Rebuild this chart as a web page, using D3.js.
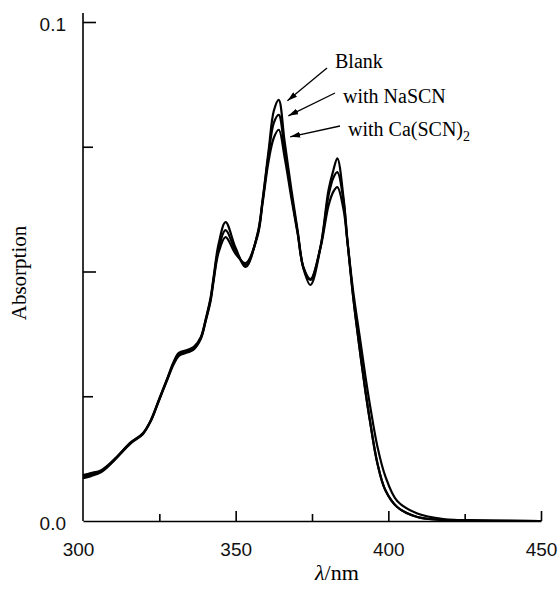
<!DOCTYPE html>
<html>
<head>
<meta charset="utf-8">
<script src="https://cdn.jsdelivr.net/npm/d3@7"></script>
<style>
  body { margin: 0; background: #fff; }
  svg { display: block; }
</style>
</head>
<body>
<div id="chart"></div>
<script>
// wavelength grid (nm)
var wavelength = [300, 302.6, 306, 310, 315.7, 319.6, 322.2, 324.8, 327.8, 329.7, 331.4, 334.3, 336.3, 338.6,
  340.2, 341.8, 342.8, 344.4, 346.7, 350, 353.3, 357.2, 358.8, 360.8, 362.5, 364.1, 366, 368.3, 370.3, 372.2,
  374.5, 377.8, 380.4, 382, 383.3, 385.3, 386.6, 388.6, 390.5, 392.5, 394.1, 396.4, 399, 402.9, 409.5, 418, 430, 450];

var blank = [0.0092, 0.0096, 0.0102, 0.0122, 0.0158, 0.0176, 0.0202, 0.0242, 0.0289, 0.0319, 0.0337, 0.0343, 0.0349, 0.0369,
  0.0405, 0.0448, 0.0490, 0.0555, 0.0599, 0.0547, 0.0509, 0.0577, 0.0643, 0.0743, 0.0822, 0.0844, 0.0762, 0.0662, 0.0582, 0.0506,
  0.0473, 0.0549, 0.0663, 0.0703, 0.0727, 0.0649, 0.0563, 0.0443, 0.0350, 0.0260, 0.0196, 0.0116, 0.0062, 0.0028, 0.0008, 0.0002, 0.0001, 0];

var nascn = [0.0089, 0.0093, 0.0100, 0.0121, 0.0157, 0.0175, 0.0201, 0.0241, 0.0288, 0.0317, 0.0334, 0.0340, 0.0346, 0.0367,
  0.0403, 0.0445, 0.0486, 0.0546, 0.0583, 0.0541, 0.0513, 0.0575, 0.0640, 0.0735, 0.0798, 0.0814, 0.0745, 0.0652, 0.0578, 0.0507,
  0.0483, 0.0550, 0.0652, 0.0688, 0.0699, 0.0642, 0.0560, 0.0443, 0.0350, 0.0260, 0.0196, 0.0116, 0.0062, 0.0028, 0.0008, 0.0002, 0.0001, 0];

var caScn = [0.0086, 0.0090, 0.0098, 0.0120, 0.0156, 0.0174, 0.0200, 0.0240, 0.0286, 0.0314, 0.0331, 0.0338, 0.0344, 0.0365,
  0.0401, 0.0441, 0.0482, 0.0538, 0.0569, 0.0535, 0.0517, 0.0572, 0.0636, 0.0722, 0.0768, 0.0784, 0.0730, 0.0645, 0.0576, 0.0509,
  0.0485, 0.0548, 0.0632, 0.0660, 0.0669, 0.0625, 0.0560, 0.0455, 0.0375, 0.0290, 0.0228, 0.0150, 0.0090, 0.0040, 0.0015, 0.0004, 0.0001, 0];

var xMajorTicks = [300, 350, 400, 450];
var xMinorTicks = [325, 375, 425];
var yMajorTicks = [0, 0.05, 0.1];
var yMinorTicks = [0.025, 0.075];

// labels with the point on each curve the arrow points to
var seriesNames = ["Blank", "with NaSCN", "with Ca(SCN)"];
var arrowNm = [366.3, 366.6, 367.2];
var arrowVal = [0.0842, 0.0812, 0.0770];

var width = 560, height = 589;

var svg = d3.select("#chart").append("svg")
    .attr("width", width)
    .attr("height", height);

var x = d3.scaleLinear().domain([300, 450]).range([83, 541]);
var y = d3.scaleLinear().domain([0, 0.1]).range([521, 22]);

var sans = "'Liberation Sans', Arial, sans-serif";
var serif = "'Liberation Serif', 'Times New Roman', serif";

// x axis
var xAxis = svg.append("g")
    .attr("transform", "translate(0," + y(0) + ")")
    .call(d3.axisBottom(x).tickValues(xMajorTicks).tickSizeInner(-10).tickSizeOuter(0).tickPadding(22)
      .tickFormat(d3.format("d")));
svg.append("g")
    .attr("transform", "translate(0," + y(0) + ")")
    .call(d3.axisBottom(x).tickValues(xMinorTicks).tickSizeInner(-7).tickSizeOuter(0).tickFormat(""))
    .select(".domain").remove();
xAxis.selectAll(".tick").filter(function(d) { return d === 300; }).select("line").remove();
xAxis.selectAll(".tick text").attr("dx", function(d) { return d === 300 ? "-5" : "0"; });

// y axis
var yAxis = svg.append("g")
    .attr("transform", "translate(" + x(300) + ",0)")
    .call(d3.axisLeft(y).tickValues(yMajorTicks).tickSizeInner(-13).tickSizeOuter(0).tickPadding(17)
      .tickFormat(function(d) { return d === 0.05 ? "" : d3.format(".1f")(d); }));
yAxis.select(".domain").remove();
yAxis.selectAll(".tick").filter(function(d) { return d === 0; }).select("line").remove();
yAxis.selectAll(".tick text").attr("dy", "0.45em");
svg.append("g")
    .attr("transform", "translate(" + x(300) + ",0)")
    .call(d3.axisLeft(y).tickValues(yMinorTicks).tickSizeInner(-10).tickSizeOuter(0).tickFormat(""))
    .select(".domain").remove();
svg.append("line")
    .attr("x1", x(300)).attr("x2", x(300))
    .attr("y1", y(0)).attr("y2", 13)
    .attr("stroke", "#000").attr("stroke-width", 1.6);

svg.selectAll(".tick line").attr("stroke", "#000").attr("stroke-width", 1.6);
svg.selectAll(".domain").attr("stroke", "#000").attr("stroke-width", 1.6);
svg.selectAll(".tick text").style("font-family", sans).style("font-size", "19px").attr("fill", "#111");

// axis titles
svg.append("text")
    .attr("x", 315).attr("y", 580)
    .style("font-family", serif).style("font-size", "22px")
    .html("<tspan font-style='italic'>λ</tspan>/nm");

svg.append("text")
    .attr("transform", "translate(26,273) rotate(-90)")
    .attr("text-anchor", "middle")
    .style("font-family", serif).style("font-size", "21px")
    .text("Absorption");

// spectra
var line = d3.line()
    .x(function(d, i) { return x(wavelength[i]); })
    .y(function(d) { return y(d); })
    .curve(d3.curveCatmullRom.alpha(0.5));

svg.selectAll(".spectrum")
    .data([blank, nascn, caScn])
  .enter().append("path")
    .attr("class", "spectrum")
    .attr("d", line)
    .attr("fill", "none")
    .attr("stroke", "#000")
    .attr("stroke-width", 2.2);

// annotations
var textPos = [[335, 68], [343, 103], [348, 136]];
var tailPos = [[327, 68], [335, 93], [340, 126]];

svg.append("defs").append("marker")
    .attr("id", "head")
    .attr("viewBox", "0 0 10 6")
    .attr("refX", 10).attr("refY", 3)
    .attr("markerWidth", 10).attr("markerHeight", 6)
    .attr("markerUnits", "userSpaceOnUse")
    .attr("orient", "auto")
  .append("path")
    .attr("d", "M0,0L10,3L0,6Z")
    .attr("fill", "#000");

seriesNames.forEach(function(name, i) {
  svg.append("line")
      .attr("x1", tailPos[i][0]).attr("y1", tailPos[i][1])
      .attr("x2", x(arrowNm[i]) + 2).attr("y2", y(arrowVal[i]))
      .attr("stroke", "#000").attr("stroke-width", 1.3)
      .attr("marker-end", "url(#head)");
  var t = svg.append("text")
      .attr("x", textPos[i][0]).attr("y", textPos[i][1])
      .style("font-family", serif).style("font-size", "20px")
      .text(name);
  if (i === 2) {
    t.append("tspan").attr("dy", 5).style("font-size", "14px").text("2");
  }
});
</script>
</body>
</html>
